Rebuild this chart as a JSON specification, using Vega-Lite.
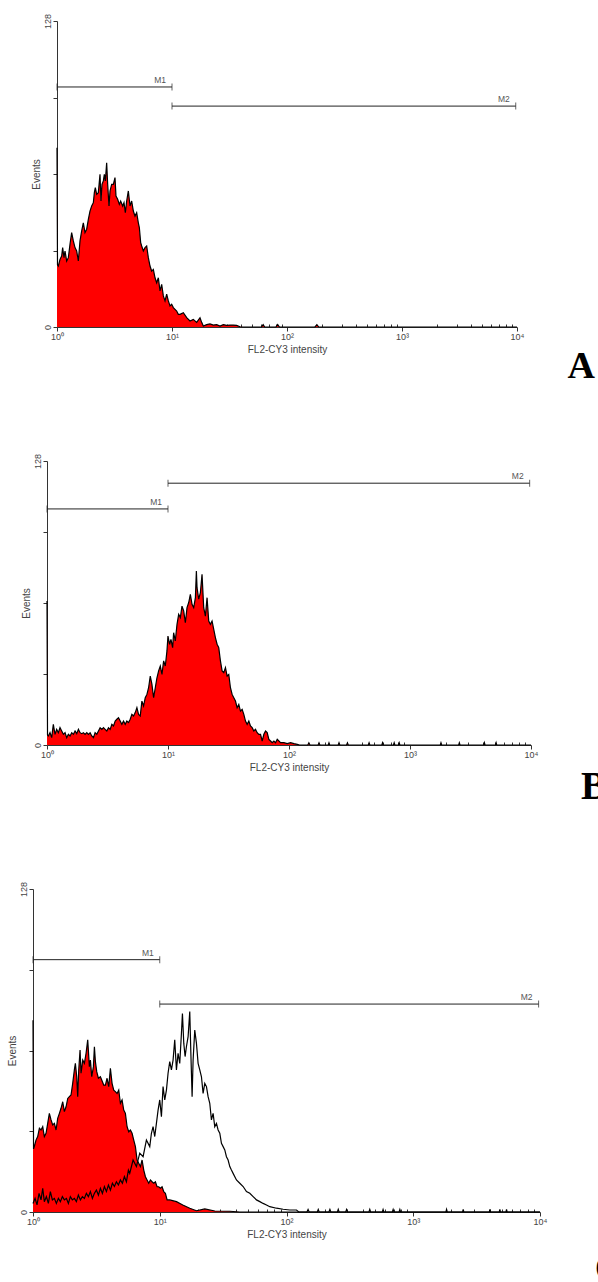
{
"$schema": "https://vega.github.io/schema/vega-lite/v6.json",
"background": "white",
"padding": {"left": 0, "top": 13, "right": 0, "bottom": 0},
"spacing": 0,
"config": {
  "view": {"stroke": null},
  "font": "Liberation Sans",
  "axis": {"grid": false, "labelFont": "Liberation Sans", "titleFont": "Liberation Sans", "titleFontWeight": "normal", "labelColor": "#444", "titleColor": "#444", "domainColor": "#333", "tickColor": "#333", "labelFontSize": 9, "titleFontSize": 10, "labelFlush": false, "labelOverlap": false, "labelBound": false}
},
"datasets": {
"markers": [
 {"p":"A","label":"M1","x":1,"x2":10,"y":100.4},
 {"p":"A","label":"M2","x":10,"x2":9750,"y":92.4},
 {"p":"B","label":"M1","x":1,"x2":10,"y":106.4},
 {"p":"B","label":"M2","x":10,"x2":9750,"y":118},
 {"p":"C","label":"M1","x":1,"x2":10,"y":100},
 {"p":"C","label":"M2","x":10,"x2":9750,"y":82.4}
],
"hist": [
{"p":"A","s":"neg","x":1,"y":75},{"p":"A","s":"neg","x":1.01,"y":26},{"p":"A","s":"neg","x":1.027,"y":25.5},{"p":"A","s":"neg","x":1.062,"y":28.3},{"p":"A","s":"neg","x":1.098,"y":29.7},{"p":"A","s":"neg","x":1.12,"y":33.2},{"p":"A","s":"neg","x":1.15,"y":29},{"p":"A","s":"neg","x":1.174,"y":31.8},{"p":"A","s":"neg","x":1.214,"y":27.6},{"p":"A","s":"neg","x":1.255,"y":29},{"p":"A","s":"neg","x":1.297,"y":34.6},{"p":"A","s":"neg","x":1.341,"y":39.5},{"p":"A","s":"neg","x":1.387,"y":36},{"p":"A","s":"neg","x":1.434,"y":33.2},{"p":"A","s":"neg","x":1.483,"y":31.8},{"p":"A","s":"neg","x":1.533,"y":27.6},{"p":"A","s":"neg","x":1.585,"y":36},{"p":"A","s":"neg","x":1.639,"y":40.2},{"p":"A","s":"neg","x":1.694,"y":43.6},{"p":"A","s":"neg","x":1.752,"y":39.5},{"p":"A","s":"neg","x":1.811,"y":40.9},{"p":"A","s":"neg","x":1.873,"y":45},{"p":"A","s":"neg","x":1.936,"y":48.5},{"p":"A","s":"neg","x":2.002,"y":50.6},{"p":"A","s":"neg","x":2.07,"y":52},{"p":"A","s":"neg","x":2.112,"y":56.2},{"p":"A","s":"neg","x":2.154,"y":58.3},{"p":"A","s":"neg","x":2.213,"y":55.5},{"p":"A","s":"neg","x":2.288,"y":56.2},{"p":"A","s":"neg","x":2.366,"y":63.9},{"p":"A","s":"neg","x":2.413,"y":52.7},{"p":"A","s":"neg","x":2.462,"y":59.7},{"p":"A","s":"neg","x":2.529,"y":61.1},{"p":"A","s":"neg","x":2.58,"y":63.9},{"p":"A","s":"neg","x":2.632,"y":61.1},{"p":"A","s":"neg","x":2.703,"y":68.7},{"p":"A","s":"neg","x":2.758,"y":59.7},{"p":"A","s":"neg","x":2.833,"y":50.6},{"p":"A","s":"neg","x":2.89,"y":56.9},{"p":"A","s":"neg","x":2.988,"y":59.7},{"p":"A","s":"neg","x":3.09,"y":59.7},{"p":"A","s":"neg","x":3.194,"y":62.5},{"p":"A","s":"neg","x":3.258,"y":54.8},{"p":"A","s":"neg","x":3.369,"y":53.4},{"p":"A","s":"neg","x":3.483,"y":51.3},{"p":"A","s":"neg","x":3.578,"y":52.7},{"p":"A","s":"neg","x":3.724,"y":50.6},{"p":"A","s":"neg","x":3.825,"y":52},{"p":"A","s":"neg","x":3.929,"y":47.8},{"p":"A","s":"neg","x":4.035,"y":52.7},{"p":"A","s":"neg","x":4.172,"y":56.9},{"p":"A","s":"neg","x":4.314,"y":50.6},{"p":"A","s":"neg","x":4.46,"y":52.7},{"p":"A","s":"neg","x":4.611,"y":48.5},{"p":"A","s":"neg","x":4.768,"y":46.4},{"p":"A","s":"neg","x":4.93,"y":47.8},{"p":"A","s":"neg","x":5.097,"y":43.6},{"p":"A","s":"neg","x":5.2,"y":41.6},{"p":"A","s":"neg","x":5.341,"y":35.3},{"p":"A","s":"neg","x":5.449,"y":33.9},{"p":"A","s":"neg","x":5.634,"y":31.8},{"p":"A","s":"neg","x":5.825,"y":33.2},{"p":"A","s":"neg","x":6.023,"y":33.9},{"p":"A","s":"neg","x":6.227,"y":29},{"p":"A","s":"neg","x":6.439,"y":25.5},{"p":"A","s":"neg","x":6.657,"y":23.4},{"p":"A","s":"neg","x":6.883,"y":24.1},{"p":"A","s":"neg","x":7.117,"y":20.6},{"p":"A","s":"neg","x":7.358,"y":18.5},{"p":"A","s":"neg","x":7.608,"y":20.6},{"p":"A","s":"neg","x":7.866,"y":15.1},{"p":"A","s":"neg","x":8.133,"y":17.8},{"p":"A","s":"neg","x":8.409,"y":13},{"p":"A","s":"neg","x":8.694,"y":10.9},{"p":"A","s":"neg","x":8.989,"y":13.7},{"p":"A","s":"neg","x":9.294,"y":10.9},{"p":"A","s":"neg","x":9.608,"y":8.8},{"p":"A","s":"neg","x":9.934,"y":9.5},{"p":"A","s":"neg","x":10.27,"y":8.1},{"p":"A","s":"neg","x":10.98,"y":6.7},{"p":"A","s":"neg","x":11.35,"y":5.3},{"p":"A","s":"neg","x":11.74,"y":5.3},{"p":"A","s":"neg","x":12.55,"y":6},{"p":"A","s":"neg","x":13.42,"y":3.9},{"p":"A","s":"neg","x":14.34,"y":2.5},{"p":"A","s":"neg","x":15.33,"y":3.2},{"p":"A","s":"neg","x":16.39,"y":1.95},{"p":"A","s":"neg","x":17.52,"y":3.9},{"p":"A","s":"neg","x":18.11,"y":1.95},{"p":"A","s":"neg","x":18.73,"y":0.4},{"p":"A","s":"neg","x":20.02,"y":1},{"p":"A","s":"neg","x":21.4,"y":1.3},{"p":"A","s":"neg","x":22.88,"y":0.8},{"p":"A","s":"neg","x":24.46,"y":1},{"p":"A","s":"neg","x":26.15,"y":0.4},{"p":"A","s":"neg","x":27.95,"y":1},{"p":"A","s":"neg","x":29.88,"y":0.7},{"p":"A","s":"neg","x":31.94,"y":0.8},{"p":"A","s":"neg","x":34.15,"y":0.8},{"p":"A","s":"neg","x":36.5,"y":0.7},{"p":"A","s":"neg","x":39.02,"y":0.1},{"p":"A","s":"neg","x":42,"y":0},{"p":"A","s":"neg","x":60,"y":0},{"p":"A","s":"neg","x":62,"y":1},{"p":"A","s":"neg","x":64,"y":0},{"p":"A","s":"neg","x":80,"y":0},{"p":"A","s":"neg","x":83,"y":1},{"p":"A","s":"neg","x":86,"y":0},{"p":"A","s":"neg","x":175,"y":0},{"p":"A","s":"neg","x":182,"y":1},{"p":"A","s":"neg","x":189,"y":0},{"p":"A","s":"neg","x":10000,"y":0},
{"p":"B","s":"pos","x":1,"y":64.9},{"p":"B","s":"pos","x":1.01,"y":4.5},{"p":"B","s":"pos","x":1.026,"y":4.06},{"p":"B","s":"pos","x":1.059,"y":5.56},{"p":"B","s":"pos","x":1.093,"y":3.31},{"p":"B","s":"pos","x":1.128,"y":9.31},{"p":"B","s":"pos","x":1.165,"y":4.81},{"p":"B","s":"pos","x":1.202,"y":7.06},{"p":"B","s":"pos","x":1.241,"y":5.56},{"p":"B","s":"pos","x":1.281,"y":7.81},{"p":"B","s":"pos","x":1.323,"y":6.31},{"p":"B","s":"pos","x":1.366,"y":4.81},{"p":"B","s":"pos","x":1.41,"y":5.56},{"p":"B","s":"pos","x":1.455,"y":3.31},{"p":"B","s":"pos","x":1.502,"y":4.81},{"p":"B","s":"pos","x":1.551,"y":4.06},{"p":"B","s":"pos","x":1.601,"y":5.56},{"p":"B","s":"pos","x":1.653,"y":4.81},{"p":"B","s":"pos","x":1.706,"y":6.31},{"p":"B","s":"pos","x":1.761,"y":5.11},{"p":"B","s":"pos","x":1.818,"y":7.06},{"p":"B","s":"pos","x":1.877,"y":5.56},{"p":"B","s":"pos","x":1.938,"y":5.11},{"p":"B","s":"pos","x":2,"y":5.56},{"p":"B","s":"pos","x":2.064,"y":4.81},{"p":"B","s":"pos","x":2.132,"y":5.56},{"p":"B","s":"pos","x":2.2,"y":4.81},{"p":"B","s":"pos","x":2.271,"y":5.56},{"p":"B","s":"pos","x":2.345,"y":4.06},{"p":"B","s":"pos","x":2.42,"y":3.31},{"p":"B","s":"pos","x":2.498,"y":5.56},{"p":"B","s":"pos","x":2.579,"y":4.81},{"p":"B","s":"pos","x":2.662,"y":6.31},{"p":"B","s":"pos","x":2.748,"y":7.81},{"p":"B","s":"pos","x":2.838,"y":7.06},{"p":"B","s":"pos","x":2.929,"y":7.81},{"p":"B","s":"pos","x":3.024,"y":7.06},{"p":"B","s":"pos","x":3.122,"y":6.31},{"p":"B","s":"pos","x":3.222,"y":7.81},{"p":"B","s":"pos","x":3.327,"y":7.06},{"p":"B","s":"pos","x":3.434,"y":9.31},{"p":"B","s":"pos","x":3.545,"y":8.56},{"p":"B","s":"pos","x":3.66,"y":10.8},{"p":"B","s":"pos","x":3.778,"y":11.6},{"p":"B","s":"pos","x":3.9,"y":12.3},{"p":"B","s":"pos","x":4.026,"y":10.8},{"p":"B","s":"pos","x":4.156,"y":9.31},{"p":"B","s":"pos","x":4.29,"y":10.8},{"p":"B","s":"pos","x":4.429,"y":9.31},{"p":"B","s":"pos","x":4.571,"y":10.8},{"p":"B","s":"pos","x":4.719,"y":10.1},{"p":"B","s":"pos","x":4.872,"y":11.6},{"p":"B","s":"pos","x":5.029,"y":13.8},{"p":"B","s":"pos","x":5.192,"y":13.1},{"p":"B","s":"pos","x":5.36,"y":14.6},{"p":"B","s":"pos","x":5.533,"y":16.8},{"p":"B","s":"pos","x":5.712,"y":13.8},{"p":"B","s":"pos","x":5.896,"y":13.1},{"p":"B","s":"pos","x":6.087,"y":19.8},{"p":"B","s":"pos","x":6.283,"y":17.6},{"p":"B","s":"pos","x":6.486,"y":21.3},{"p":"B","s":"pos","x":6.696,"y":22.8},{"p":"B","s":"pos","x":6.912,"y":25.8},{"p":"B","s":"pos","x":7.136,"y":31.1},{"p":"B","s":"pos","x":7.366,"y":27.3},{"p":"B","s":"pos","x":7.604,"y":21.3},{"p":"B","s":"pos","x":7.85,"y":25.8},{"p":"B","s":"pos","x":8.103,"y":30.3},{"p":"B","s":"pos","x":8.365,"y":33.4},{"p":"B","s":"pos","x":8.636,"y":35.6},{"p":"B","s":"pos","x":8.914,"y":31.8},{"p":"B","s":"pos","x":9.202,"y":37.9},{"p":"B","s":"pos","x":9.498,"y":35.6},{"p":"B","s":"pos","x":9.804,"y":42.4},{"p":"B","s":"pos","x":9.993,"y":49.1},{"p":"B","s":"pos","x":10.31,"y":45.4},{"p":"B","s":"pos","x":10.58,"y":47.6},{"p":"B","s":"pos","x":10.92,"y":43.9},{"p":"B","s":"pos","x":11.13,"y":50.6},{"p":"B","s":"pos","x":11.49,"y":46.9},{"p":"B","s":"pos","x":11.87,"y":54.4},{"p":"B","s":"pos","x":12.25,"y":58.9},{"p":"B","s":"pos","x":12.65,"y":57.4},{"p":"B","s":"pos","x":13.05,"y":62.6},{"p":"B","s":"pos","x":13.48,"y":60.4},{"p":"B","s":"pos","x":13.91,"y":55.1},{"p":"B","s":"pos","x":14.36,"y":61.9},{"p":"B","s":"pos","x":14.83,"y":64.2},{"p":"B","s":"pos","x":15.3,"y":67.9},{"p":"B","s":"pos","x":15.8,"y":63.4},{"p":"B","s":"pos","x":16.31,"y":61.9},{"p":"B","s":"pos","x":16.84,"y":66.4},{"p":"B","s":"pos","x":17.16,"y":78.4},{"p":"B","s":"pos","x":17.38,"y":70.9},{"p":"B","s":"pos","x":17.94,"y":65.7},{"p":"B","s":"pos","x":18.52,"y":68.7},{"p":"B","s":"pos","x":19.11,"y":76.9},{"p":"B","s":"pos","x":19.73,"y":61.9},{"p":"B","s":"pos","x":20.37,"y":58.1},{"p":"B","s":"pos","x":21.03,"y":66.4},{"p":"B","s":"pos","x":21.71,"y":55.9},{"p":"B","s":"pos","x":22.41,"y":54.4},{"p":"B","s":"pos","x":23.13,"y":55.9},{"p":"B","s":"pos","x":23.88,"y":52.1},{"p":"B","s":"pos","x":24.65,"y":48.4},{"p":"B","s":"pos","x":25.45,"y":45.4},{"p":"B","s":"pos","x":26.27,"y":43.9},{"p":"B","s":"pos","x":27.12,"y":37.9},{"p":"B","s":"pos","x":28,"y":33.4},{"p":"B","s":"pos","x":28.9,"y":32.6},{"p":"B","s":"pos","x":29.84,"y":34.9},{"p":"B","s":"pos","x":30.8,"y":31.1},{"p":"B","s":"pos","x":31.79,"y":31.8},{"p":"B","s":"pos","x":32.82,"y":25.8},{"p":"B","s":"pos","x":33.88,"y":22.8},{"p":"B","s":"pos","x":34.98,"y":21.3},{"p":"B","s":"pos","x":36.11,"y":19.8},{"p":"B","s":"pos","x":37.27,"y":16.8},{"p":"B","s":"pos","x":38.47,"y":18.3},{"p":"B","s":"pos","x":39.72,"y":15.3},{"p":"B","s":"pos","x":41,"y":16.1},{"p":"B","s":"pos","x":42.32,"y":13.8},{"p":"B","s":"pos","x":43.69,"y":10.8},{"p":"B","s":"pos","x":45.1,"y":9.31},{"p":"B","s":"pos","x":46.56,"y":10.8},{"p":"B","s":"pos","x":48.06,"y":8.56},{"p":"B","s":"pos","x":49.61,"y":7.81},{"p":"B","s":"pos","x":51.21,"y":6.31},{"p":"B","s":"pos","x":52.86,"y":7.06},{"p":"B","s":"pos","x":54.58,"y":5.56},{"p":"B","s":"pos","x":56.34,"y":4.81},{"p":"B","s":"pos","x":58.16,"y":4.81},{"p":"B","s":"pos","x":60.03,"y":1.8},{"p":"B","s":"pos","x":61.98,"y":4.81},{"p":"B","s":"pos","x":63.97,"y":6.31},{"p":"B","s":"pos","x":66.04,"y":5.56},{"p":"B","s":"pos","x":68.18,"y":2.55},{"p":"B","s":"pos","x":70.38,"y":1.8},{"p":"B","s":"pos","x":72.65,"y":1.05},{"p":"B","s":"pos","x":75,"y":1.8},{"p":"B","s":"pos","x":77.42,"y":1.05},{"p":"B","s":"pos","x":79.93,"y":2.55},{"p":"B","s":"pos","x":85.17,"y":1.05},{"p":"B","s":"pos","x":90.78,"y":1.05},{"p":"B","s":"pos","x":96.73,"y":0.6},{"p":"B","s":"pos","x":103.1,"y":1.05},{"p":"B","s":"pos","x":109.9,"y":0.6},{"p":"B","s":"pos","x":117.1,"y":0.3},{"p":"B","s":"pos","x":122,"y":0},{"p":"B","s":"pos","x":143,"y":0},{"p":"B","s":"pos","x":146,"y":1},{"p":"B","s":"pos","x":149,"y":0},{"p":"B","s":"pos","x":174,"y":0},{"p":"B","s":"pos","x":177,"y":1},{"p":"B","s":"pos","x":180,"y":0},{"p":"B","s":"pos","x":211,"y":0},{"p":"B","s":"pos","x":214,"y":1},{"p":"B","s":"pos","x":217,"y":0},{"p":"B","s":"pos","x":255,"y":0},{"p":"B","s":"pos","x":259,"y":1},{"p":"B","s":"pos","x":263,"y":0},{"p":"B","s":"pos","x":299,"y":0},{"p":"B","s":"pos","x":304,"y":1},{"p":"B","s":"pos","x":309,"y":0},{"p":"B","s":"pos","x":452,"y":0},{"p":"B","s":"pos","x":459,"y":1},{"p":"B","s":"pos","x":466,"y":0},{"p":"B","s":"pos","x":585,"y":0},{"p":"B","s":"pos","x":593,"y":1},{"p":"B","s":"pos","x":601,"y":0},{"p":"B","s":"pos","x":730,"y":0},{"p":"B","s":"pos","x":740,"y":1},{"p":"B","s":"pos","x":750,"y":0},{"p":"B","s":"pos","x":803,"y":0},{"p":"B","s":"pos","x":814,"y":1},{"p":"B","s":"pos","x":825,"y":0},{"p":"B","s":"pos","x":1780,"y":0},{"p":"B","s":"pos","x":1803,"y":1},{"p":"B","s":"pos","x":1826,"y":0},{"p":"B","s":"pos","x":2525,"y":0},{"p":"B","s":"pos","x":2557,"y":1},{"p":"B","s":"pos","x":2590,"y":0},{"p":"B","s":"pos","x":4070,"y":0},{"p":"B","s":"pos","x":4121,"y":1},{"p":"B","s":"pos","x":4170,"y":0},{"p":"B","s":"pos","x":5090,"y":0},{"p":"B","s":"pos","x":5150,"y":1},{"p":"B","s":"pos","x":5210,"y":0},{"p":"B","s":"pos","x":10000,"y":0},
{"p":"C","s":"neg","x":1,"y":76},{"p":"C","s":"neg","x":1.01,"y":25},{"p":"C","s":"neg","x":1.024,"y":25.9},{"p":"C","s":"neg","x":1.056,"y":28.5},{"p":"C","s":"neg","x":1.089,"y":29.9},{"p":"C","s":"neg","x":1.123,"y":33.2},{"p":"C","s":"neg","x":1.157,"y":32.5},{"p":"C","s":"neg","x":1.193,"y":33.8},{"p":"C","s":"neg","x":1.229,"y":29.9},{"p":"C","s":"neg","x":1.267,"y":31.2},{"p":"C","s":"neg","x":1.306,"y":35.1},{"p":"C","s":"neg","x":1.346,"y":39.1},{"p":"C","s":"neg","x":1.388,"y":36.5},{"p":"C","s":"neg","x":1.43,"y":34.5},{"p":"C","s":"neg","x":1.474,"y":35.1},{"p":"C","s":"neg","x":1.52,"y":32.5},{"p":"C","s":"neg","x":1.566,"y":37.1},{"p":"C","s":"neg","x":1.615,"y":39.1},{"p":"C","s":"neg","x":1.664,"y":41.1},{"p":"C","s":"neg","x":1.716,"y":43.7},{"p":"C","s":"neg","x":1.768,"y":39.8},{"p":"C","s":"neg","x":1.823,"y":41.7},{"p":"C","s":"neg","x":1.879,"y":45},{"p":"C","s":"neg","x":1.936,"y":45.7},{"p":"C","s":"neg","x":1.996,"y":46.4},{"p":"C","s":"neg","x":2.057,"y":51},{"p":"C","s":"neg","x":2.12,"y":56.3},{"p":"C","s":"neg","x":2.159,"y":58.9},{"p":"C","s":"neg","x":2.213,"y":53.6},{"p":"C","s":"neg","x":2.253,"y":45.7},{"p":"C","s":"neg","x":2.295,"y":56.3},{"p":"C","s":"neg","x":2.351,"y":64.2},{"p":"C","s":"neg","x":2.394,"y":55},{"p":"C","s":"neg","x":2.468,"y":60.2},{"p":"C","s":"neg","x":2.543,"y":58.9},{"p":"C","s":"neg","x":2.622,"y":62.9},{"p":"C","s":"neg","x":2.702,"y":68.2},{"p":"C","s":"neg","x":2.786,"y":57.6},{"p":"C","s":"neg","x":2.837,"y":60.2},{"p":"C","s":"neg","x":2.907,"y":53.6},{"p":"C","s":"neg","x":2.996,"y":57.6},{"p":"C","s":"neg","x":3.051,"y":65.5},{"p":"C","s":"neg","x":3.107,"y":59.6},{"p":"C","s":"neg","x":3.183,"y":55.6},{"p":"C","s":"neg","x":3.281,"y":53},{"p":"C","s":"neg","x":3.402,"y":53.6},{"p":"C","s":"neg","x":3.485,"y":52.3},{"p":"C","s":"neg","x":3.614,"y":50.3},{"p":"C","s":"neg","x":3.725,"y":50.3},{"p":"C","s":"neg","x":3.84,"y":53},{"p":"C","s":"neg","x":3.958,"y":49.7},{"p":"C","s":"neg","x":4.08,"y":56.9},{"p":"C","s":"neg","x":4.205,"y":51},{"p":"C","s":"neg","x":4.335,"y":48.3},{"p":"C","s":"neg","x":4.468,"y":47.7},{"p":"C","s":"neg","x":4.605,"y":47},{"p":"C","s":"neg","x":4.747,"y":48.3},{"p":"C","s":"neg","x":4.893,"y":43.1},{"p":"C","s":"neg","x":5.043,"y":44.4},{"p":"C","s":"neg","x":5.199,"y":40.4},{"p":"C","s":"neg","x":5.358,"y":39.1},{"p":"C","s":"neg","x":5.524,"y":33.8},{"p":"C","s":"neg","x":5.693,"y":31.8},{"p":"C","s":"neg","x":5.869,"y":32.5},{"p":"C","s":"neg","x":6.049,"y":31.2},{"p":"C","s":"neg","x":6.235,"y":28.5},{"p":"C","s":"neg","x":6.427,"y":25.9},{"p":"C","s":"neg","x":6.625,"y":20.6},{"p":"C","s":"neg","x":6.828,"y":19.3},{"p":"C","s":"neg","x":7.038,"y":18},{"p":"C","s":"neg","x":7.254,"y":20.6},{"p":"C","s":"neg","x":7.478,"y":16.6},{"p":"C","s":"neg","x":7.708,"y":14},{"p":"C","s":"neg","x":7.943,"y":12.7},{"p":"C","s":"neg","x":8.188,"y":11.4},{"p":"C","s":"neg","x":8.439,"y":12.7},{"p":"C","s":"neg","x":8.699,"y":12},{"p":"C","s":"neg","x":8.966,"y":11.4},{"p":"C","s":"neg","x":9.243,"y":12},{"p":"C","s":"neg","x":9.526,"y":10},{"p":"C","s":"neg","x":9.82,"y":10},{"p":"C","s":"neg","x":10.12,"y":9.4},{"p":"C","s":"neg","x":10.43,"y":10},{"p":"C","s":"neg","x":10.75,"y":8.1},{"p":"C","s":"neg","x":11.08,"y":7.4},{"p":"C","s":"neg","x":11.43,"y":4.8},{"p":"C","s":"neg","x":11.99,"y":4.8},{"p":"C","s":"neg","x":13.55,"y":4.1},{"p":"C","s":"neg","x":15.19,"y":2.8},{"p":"C","s":"neg","x":17.25,"y":1.5},{"p":"C","s":"neg","x":19.49,"y":0.5},{"p":"C","s":"neg","x":22.65,"y":1.2},{"p":"C","s":"neg","x":27.2,"y":0.4},{"p":"C","s":"neg","x":35.7,"y":0.3},{"p":"C","s":"neg","x":42.8,"y":0},{"p":"C","s":"neg","x":10000,"y":0},
{"p":"C","s":"pos","x":1,"y":3.4},{"p":"C","s":"pos","x":1.038,"y":5.4},{"p":"C","s":"pos","x":1.076,"y":2.8},{"p":"C","s":"pos","x":1.116,"y":7.4},{"p":"C","s":"pos","x":1.157,"y":4.8},{"p":"C","s":"pos","x":1.193,"y":9.4},{"p":"C","s":"pos","x":1.229,"y":4.1},{"p":"C","s":"pos","x":1.275,"y":6.1},{"p":"C","s":"pos","x":1.322,"y":3.4},{"p":"C","s":"pos","x":1.371,"y":8.1},{"p":"C","s":"pos","x":1.422,"y":4.8},{"p":"C","s":"pos","x":1.474,"y":5.4},{"p":"C","s":"pos","x":1.529,"y":3.4},{"p":"C","s":"pos","x":1.586,"y":5.4},{"p":"C","s":"pos","x":1.644,"y":4.1},{"p":"C","s":"pos","x":1.705,"y":6.1},{"p":"C","s":"pos","x":1.768,"y":4.8},{"p":"C","s":"pos","x":1.834,"y":5.4},{"p":"C","s":"pos","x":1.902,"y":3.4},{"p":"C","s":"pos","x":1.971,"y":6.1},{"p":"C","s":"pos","x":2.044,"y":4.8},{"p":"C","s":"pos","x":2.12,"y":5.4},{"p":"C","s":"pos","x":2.199,"y":4.1},{"p":"C","s":"pos","x":2.28,"y":6.7},{"p":"C","s":"pos","x":2.365,"y":4.8},{"p":"C","s":"pos","x":2.453,"y":6.1},{"p":"C","s":"pos","x":2.543,"y":5.4},{"p":"C","s":"pos","x":2.637,"y":7.4},{"p":"C","s":"pos","x":2.735,"y":6.1},{"p":"C","s":"pos","x":2.837,"y":8.1},{"p":"C","s":"pos","x":2.942,"y":5.4},{"p":"C","s":"pos","x":3.051,"y":7.4},{"p":"C","s":"pos","x":3.164,"y":8.7},{"p":"C","s":"pos","x":3.281,"y":6.7},{"p":"C","s":"pos","x":3.402,"y":9.4},{"p":"C","s":"pos","x":3.528,"y":7.4},{"p":"C","s":"pos","x":3.659,"y":10.1},{"p":"C","s":"pos","x":3.794,"y":8.1},{"p":"C","s":"pos","x":3.935,"y":10.7},{"p":"C","s":"pos","x":4.08,"y":8.7},{"p":"C","s":"pos","x":4.231,"y":11.4},{"p":"C","s":"pos","x":4.388,"y":10.1},{"p":"C","s":"pos","x":4.55,"y":12},{"p":"C","s":"pos","x":4.718,"y":10.7},{"p":"C","s":"pos","x":4.893,"y":12.7},{"p":"C","s":"pos","x":5.074,"y":11.4},{"p":"C","s":"pos","x":5.262,"y":14},{"p":"C","s":"pos","x":5.457,"y":12},{"p":"C","s":"pos","x":5.657,"y":16.6},{"p":"C","s":"pos","x":5.797,"y":15.3},{"p":"C","s":"pos","x":6.159,"y":20.6},{"p":"C","s":"pos","x":6.544,"y":18},{"p":"C","s":"pos","x":6.953,"y":23.3},{"p":"C","s":"pos","x":7.387,"y":21.9},{"p":"C","s":"pos","x":7.848,"y":28.5},{"p":"C","s":"pos","x":8.339,"y":25.9},{"p":"C","s":"pos","x":8.595,"y":31.2},{"p":"C","s":"pos","x":8.859,"y":33.8},{"p":"C","s":"pos","x":9.131,"y":29.9},{"p":"C","s":"pos","x":9.412,"y":35.1},{"p":"C","s":"pos","x":9.701,"y":40.4},{"p":"C","s":"pos","x":10,"y":44.4},{"p":"C","s":"pos","x":10.31,"y":37.8},{"p":"C","s":"pos","x":10.62,"y":49.7},{"p":"C","s":"pos","x":10.95,"y":44.4},{"p":"C","s":"pos","x":11.29,"y":48.3},{"p":"C","s":"pos","x":11.63,"y":55},{"p":"C","s":"pos","x":11.99,"y":59.6},{"p":"C","s":"pos","x":12.36,"y":56.3},{"p":"C","s":"pos","x":12.74,"y":60.2},{"p":"C","s":"pos","x":13.13,"y":68.2},{"p":"C","s":"pos","x":13.54,"y":56.3},{"p":"C","s":"pos","x":13.95,"y":62.9},{"p":"C","s":"pos","x":14.38,"y":58.9},{"p":"C","s":"pos","x":14.83,"y":70.8},{"p":"C","s":"pos","x":15.1,"y":78.7},{"p":"C","s":"pos","x":15.47,"y":66.9},{"p":"C","s":"pos","x":15.85,"y":61.6},{"p":"C","s":"pos","x":16.23,"y":65.5},{"p":"C","s":"pos","x":16.74,"y":69.5},{"p":"C","s":"pos","x":17.25,"y":79.4},{"p":"C","s":"pos","x":17.57,"y":64.2},{"p":"C","s":"pos","x":18,"y":45.7},{"p":"C","s":"pos","x":18.33,"y":60.2},{"p":"C","s":"pos","x":18.89,"y":72.1},{"p":"C","s":"pos","x":19.47,"y":66.9},{"p":"C","s":"pos","x":20.07,"y":58.9},{"p":"C","s":"pos","x":20.69,"y":56.3},{"p":"C","s":"pos","x":21.33,"y":53.6},{"p":"C","s":"pos","x":21.98,"y":47},{"p":"C","s":"pos","x":22.66,"y":51},{"p":"C","s":"pos","x":23.36,"y":49.7},{"p":"C","s":"pos","x":24.07,"y":45.7},{"p":"C","s":"pos","x":24.81,"y":43.1},{"p":"C","s":"pos","x":25.57,"y":36.5},{"p":"C","s":"pos","x":26.36,"y":39.1},{"p":"C","s":"pos","x":27.17,"y":33.8},{"p":"C","s":"pos","x":28.01,"y":35.1},{"p":"C","s":"pos","x":28.87,"y":32.5},{"p":"C","s":"pos","x":29.76,"y":31.2},{"p":"C","s":"pos","x":30.67,"y":27.2},{"p":"C","s":"pos","x":31.62,"y":25.9},{"p":"C","s":"pos","x":32.59,"y":24.6},{"p":"C","s":"pos","x":33.59,"y":21.9},{"p":"C","s":"pos","x":34.62,"y":20.6},{"p":"C","s":"pos","x":35.69,"y":18},{"p":"C","s":"pos","x":36.78,"y":16.6},{"p":"C","s":"pos","x":37.91,"y":15.3},{"p":"C","s":"pos","x":40.28,"y":12.7},{"p":"C","s":"pos","x":42.8,"y":11.4},{"p":"C","s":"pos","x":45.48,"y":10.1},{"p":"C","s":"pos","x":48.31,"y":8.1},{"p":"C","s":"pos","x":51.33,"y":7.4},{"p":"C","s":"pos","x":54.54,"y":6.1},{"p":"C","s":"pos","x":57.94,"y":4.8},{"p":"C","s":"pos","x":61.56,"y":4.1},{"p":"C","s":"pos","x":65.41,"y":3.4},{"p":"C","s":"pos","x":69.5,"y":2.8},{"p":"C","s":"pos","x":73.84,"y":2.1},{"p":"C","s":"pos","x":83.34,"y":1.5},{"p":"C","s":"pos","x":94.06,"y":1.1},{"p":"C","s":"pos","x":106.2,"y":0.8},{"p":"C","s":"pos","x":119.9,"y":0.8},{"p":"C","s":"pos","x":125,"y":0},{"p":"C","s":"pos","x":145,"y":0},{"p":"C","s":"pos","x":148,"y":1},{"p":"C","s":"pos","x":151,"y":0},{"p":"C","s":"pos","x":175,"y":0},{"p":"C","s":"pos","x":178,"y":1},{"p":"C","s":"pos","x":181,"y":0},{"p":"C","s":"pos","x":216,"y":0},{"p":"C","s":"pos","x":220,"y":1},{"p":"C","s":"pos","x":224,"y":0},{"p":"C","s":"pos","x":252,"y":0},{"p":"C","s":"pos","x":256,"y":1},{"p":"C","s":"pos","x":260,"y":0},{"p":"C","s":"pos","x":293,"y":0},{"p":"C","s":"pos","x":298,"y":1},{"p":"C","s":"pos","x":303,"y":0},{"p":"C","s":"pos","x":447,"y":0},{"p":"C","s":"pos","x":454,"y":1},{"p":"C","s":"pos","x":461,"y":0},{"p":"C","s":"pos","x":570,"y":0},{"p":"C","s":"pos","x":578,"y":1},{"p":"C","s":"pos","x":586,"y":0},{"p":"C","s":"pos","x":684,"y":0},{"p":"C","s":"pos","x":694,"y":1},{"p":"C","s":"pos","x":704,"y":0},{"p":"C","s":"pos","x":773,"y":0},{"p":"C","s":"pos","x":784,"y":1},{"p":"C","s":"pos","x":795,"y":0},{"p":"C","s":"pos","x":1810,"y":0},{"p":"C","s":"pos","x":1832,"y":1},{"p":"C","s":"pos","x":1854,"y":0},{"p":"C","s":"pos","x":2450,"y":0},{"p":"C","s":"pos","x":2478,"y":1},{"p":"C","s":"pos","x":2506,"y":0},{"p":"C","s":"pos","x":3980,"y":0},{"p":"C","s":"pos","x":4024,"y":1},{"p":"C","s":"pos","x":4070,"y":0},{"p":"C","s":"pos","x":4770,"y":0},{"p":"C","s":"pos","x":4823,"y":1},{"p":"C","s":"pos","x":4876,"y":0},{"p":"C","s":"pos","x":5390,"y":0},{"p":"C","s":"pos","x":5445,"y":1},{"p":"C","s":"pos","x":5500,"y":0},{"p":"C","s":"pos","x":10000,"y":0}
]
},
"vconcat": [
{"spacing": 0, "hconcat": [
 {"width": 31, "height": 432, "data": {"values": []}, "mark": "point"},
 {"width": 460, "height": 306,
  "title": {"text": "A", "orient": "bottom", "anchor": "end", "frame": "group", "font": "Liberation Serif", "fontWeight": "bold", "fontSize": 38, "color": "#000", "baseline": "alphabetic", "offset": 24, "dx": 78},
  "layer": [
   {"data": {"name": "hist"}, "transform": [{"filter": "datum.p == 'A'"}],
    "mark": {"type": "area", "color": "#ff0000"},
    "encoding": {
     "x": {"field": "x", "type": "quantitative", "scale": {"type": "log", "domain": [1, 10000], "nice": false},
       "axis": {"title": "FL2-CY3 intensity", "values": [1,2,3,4,5,6,7,8,9,10,20,30,40,50,60,70,80,90,100,200,300,400,500,600,700,800,900,1000,2000,3000,4000,5000,6000,7000,8000,9000,10000],
         "labelExpr": "datum.value == 1 ? '10⁰' : datum.value == 10 ? '10¹' : datum.value == 100 ? '10²' : datum.value == 1000 ? '10³' : datum.value == 10000 ? '10⁴' : ''",
         "tickSize": {"condition": {"test": "indexof([1,10,100,1000,10000], datum.value) >= 0", "value": 4}, "value": -3},
         "labelPadding": 1, "titlePadding": 3}},
     "y": {"field": "y", "type": "quantitative", "scale": {"domain": [0, 128], "nice": false},
       "axis": {"title": "Events", "values": [0, 32, 64, 96, 128], "labelExpr": "datum.value == 0 || datum.value == 128 ? datum.label : ''", "labelAngle": 270, "labelAlign": "center", "labelBaseline": "bottom", "tickSize": 4, "labelPadding": 1, "titlePadding": 2}}
    }},
   {"data": {"name": "hist"}, "transform": [{"filter": "datum.p == 'A'"}],
    "mark": {"type": "line", "color": "#000", "strokeWidth": 1.2},
    "encoding": {
     "x": {"field": "x", "type": "quantitative", "scale": {"type": "log", "domain": [1, 10000], "nice": false}},
     "y": {"field": "y", "type": "quantitative", "scale": {"domain": [0, 128], "nice": false}}}},
   {"data": {"name": "markers"}, "transform": [{"filter": "datum.p == 'A'"}],
    "mark": {"type": "rule", "color": "#222", "strokeWidth": 1},
    "encoding": {
     "x": {"field": "x", "type": "quantitative", "scale": {"type": "log", "domain": [1, 10000], "nice": false}},
     "x2": {"field": "x2"},
     "y": {"field": "y", "type": "quantitative", "scale": {"domain": [0, 128], "nice": false}}}},
   {"data": {"name": "markers"}, "transform": [{"filter": "datum.p == 'A'"}, {"fold": ["x", "x2"], "as": ["end", "xe"]}],
    "mark": {"type": "tick", "orient": "vertical", "size": 7, "thickness": 1, "color": "#222"},
    "encoding": {
     "x": {"field": "xe", "type": "quantitative", "scale": {"type": "log", "domain": [1, 10000], "nice": false}},
     "y": {"field": "y", "type": "quantitative", "scale": {"domain": [0, 128], "nice": false}}}},
   {"data": {"name": "markers"}, "transform": [{"filter": "datum.p == 'A'"}],
    "mark": {"type": "text", "align": "right", "baseline": "bottom", "dx": -6, "dy": -2, "fontSize": 8.5, "color": "#555"},
    "encoding": {
     "x": {"field": "x2", "type": "quantitative", "scale": {"type": "log", "domain": [1, 10000], "nice": false}},
     "y": {"field": "y", "type": "quantitative", "scale": {"domain": [0, 128], "nice": false}},
     "text": {"field": "label"}}}
  ]}
]},
{"spacing": 0, "hconcat": [
 {"width": 21, "height": 420, "data": {"values": []}, "mark": "point"},
 {"width": 484, "height": 284,
  "title": {"text": "B", "orient": "bottom", "anchor": "end", "frame": "group", "font": "Liberation Serif", "fontWeight": "bold", "fontSize": 39, "color": "#000", "baseline": "alphabetic", "offset": 27, "dx": 76},
  "layer": [
   {"data": {"name": "hist"}, "transform": [{"filter": "datum.p == 'B'"}],
    "mark": {"type": "area", "color": "#ff0000"},
    "encoding": {
     "x": {"field": "x", "type": "quantitative", "scale": {"type": "log", "domain": [1, 10000], "nice": false},
       "axis": {"title": "FL2-CY3 intensity", "values": [1,2,3,4,5,6,7,8,9,10,20,30,40,50,60,70,80,90,100,200,300,400,500,600,700,800,900,1000,2000,3000,4000,5000,6000,7000,8000,9000,10000],
         "labelExpr": "datum.value == 1 ? '10⁰' : datum.value == 10 ? '10¹' : datum.value == 100 ? '10²' : datum.value == 1000 ? '10³' : datum.value == 10000 ? '10⁴' : ''",
         "tickSize": {"condition": {"test": "indexof([1,10,100,1000,10000], datum.value) >= 0", "value": 4}, "value": -3},
         "labelPadding": 1, "titlePadding": 3}},
     "y": {"field": "y", "type": "quantitative", "scale": {"domain": [0, 128], "nice": false},
       "axis": {"title": "Events", "values": [0, 32, 64, 96, 128], "labelExpr": "datum.value == 0 || datum.value == 128 ? datum.label : ''", "labelAngle": 270, "labelAlign": "center", "labelBaseline": "bottom", "tickSize": 4, "labelPadding": 1, "titlePadding": 2}}
    }},
   {"data": {"name": "hist"}, "transform": [{"filter": "datum.p == 'B'"}],
    "mark": {"type": "line", "color": "#000", "strokeWidth": 1.2},
    "encoding": {
     "x": {"field": "x", "type": "quantitative", "scale": {"type": "log", "domain": [1, 10000], "nice": false}},
     "y": {"field": "y", "type": "quantitative", "scale": {"domain": [0, 128], "nice": false}}}},
   {"data": {"name": "markers"}, "transform": [{"filter": "datum.p == 'B'"}],
    "mark": {"type": "rule", "color": "#222", "strokeWidth": 1},
    "encoding": {
     "x": {"field": "x", "type": "quantitative", "scale": {"type": "log", "domain": [1, 10000], "nice": false}},
     "x2": {"field": "x2"},
     "y": {"field": "y", "type": "quantitative", "scale": {"domain": [0, 128], "nice": false}}}},
   {"data": {"name": "markers"}, "transform": [{"filter": "datum.p == 'B'"}, {"fold": ["x", "x2"], "as": ["end", "xe"]}],
    "mark": {"type": "tick", "orient": "vertical", "size": 7, "thickness": 1, "color": "#222"},
    "encoding": {
     "x": {"field": "xe", "type": "quantitative", "scale": {"type": "log", "domain": [1, 10000], "nice": false}},
     "y": {"field": "y", "type": "quantitative", "scale": {"domain": [0, 128], "nice": false}}}},
   {"data": {"name": "markers"}, "transform": [{"filter": "datum.p == 'B'"}],
    "mark": {"type": "text", "align": "right", "baseline": "bottom", "dx": -6, "dy": -2, "fontSize": 8.5, "color": "#555"},
    "encoding": {
     "x": {"field": "x2", "type": "quantitative", "scale": {"type": "log", "domain": [1, 10000], "nice": false}},
     "y": {"field": "y", "type": "quantitative", "scale": {"domain": [0, 128], "nice": false}},
     "text": {"field": "label"}}}
  ]}
]},
{"spacing": 0, "hconcat": [
 {"width": 7, "height": 400, "data": {"values": []}, "mark": "point"},
 {"width": 507, "height": 323,
  "title": {"text": "C", "orient": "bottom", "anchor": "end", "frame": "group", "font": "Liberation Serif", "fontWeight": "bold", "fontSize": 39, "color": "#000", "baseline": "alphabetic", "offset": 42, "dx": 83},
  "layer": [
   {"data": {"name": "hist"}, "transform": [{"filter": "datum.p == 'C' && datum.s == 'neg'"}],
    "mark": {"type": "area", "color": "#ff0000"},
    "encoding": {
     "x": {"field": "x", "type": "quantitative", "scale": {"type": "log", "domain": [1, 10000], "nice": false},
       "axis": {"title": "FL2-CY3 intensity", "values": [1,2,3,4,5,6,7,8,9,10,20,30,40,50,60,70,80,90,100,200,300,400,500,600,700,800,900,1000,2000,3000,4000,5000,6000,7000,8000,9000,10000],
         "labelExpr": "datum.value == 1 ? '10⁰' : datum.value == 10 ? '10¹' : datum.value == 100 ? '10²' : datum.value == 1000 ? '10³' : datum.value == 10000 ? '10⁴' : ''",
         "tickSize": {"condition": {"test": "indexof([1,10,100,1000,10000], datum.value) >= 0", "value": 4}, "value": -3},
         "labelPadding": 1, "titlePadding": 3}},
     "y": {"field": "y", "type": "quantitative", "scale": {"domain": [0, 128], "nice": false},
       "axis": {"title": "Events", "values": [0, 32, 64, 96, 128], "labelExpr": "datum.value == 0 || datum.value == 128 ? datum.label : ''", "labelAngle": 270, "labelAlign": "center", "labelBaseline": "bottom", "tickSize": 4, "labelPadding": 1, "titlePadding": 2}}
    }},
   {"data": {"name": "hist"}, "transform": [{"filter": "datum.p == 'C'"}],
    "mark": {"type": "line", "color": "#000", "strokeWidth": 1.2},
    "encoding": {
     "x": {"field": "x", "type": "quantitative", "scale": {"type": "log", "domain": [1, 10000], "nice": false}},
     "y": {"field": "y", "type": "quantitative", "scale": {"domain": [0, 128], "nice": false}},
     "detail": {"field": "s"}}},
   {"data": {"name": "markers"}, "transform": [{"filter": "datum.p == 'C'"}],
    "mark": {"type": "rule", "color": "#222", "strokeWidth": 1},
    "encoding": {
     "x": {"field": "x", "type": "quantitative", "scale": {"type": "log", "domain": [1, 10000], "nice": false}},
     "x2": {"field": "x2"},
     "y": {"field": "y", "type": "quantitative", "scale": {"domain": [0, 128], "nice": false}}}},
   {"data": {"name": "markers"}, "transform": [{"filter": "datum.p == 'C'"}, {"fold": ["x", "x2"], "as": ["end", "xe"]}],
    "mark": {"type": "tick", "orient": "vertical", "size": 7, "thickness": 1, "color": "#222"},
    "encoding": {
     "x": {"field": "xe", "type": "quantitative", "scale": {"type": "log", "domain": [1, 10000], "nice": false}},
     "y": {"field": "y", "type": "quantitative", "scale": {"domain": [0, 128], "nice": false}}}},
   {"data": {"name": "markers"}, "transform": [{"filter": "datum.p == 'C'"}],
    "mark": {"type": "text", "align": "right", "baseline": "bottom", "dx": -6, "dy": -2, "fontSize": 8.5, "color": "#555"},
    "encoding": {
     "x": {"field": "x2", "type": "quantitative", "scale": {"type": "log", "domain": [1, 10000], "nice": false}},
     "y": {"field": "y", "type": "quantitative", "scale": {"domain": [0, 128], "nice": false}},
     "text": {"field": "label"}}}
  ]}
]}
]
}
